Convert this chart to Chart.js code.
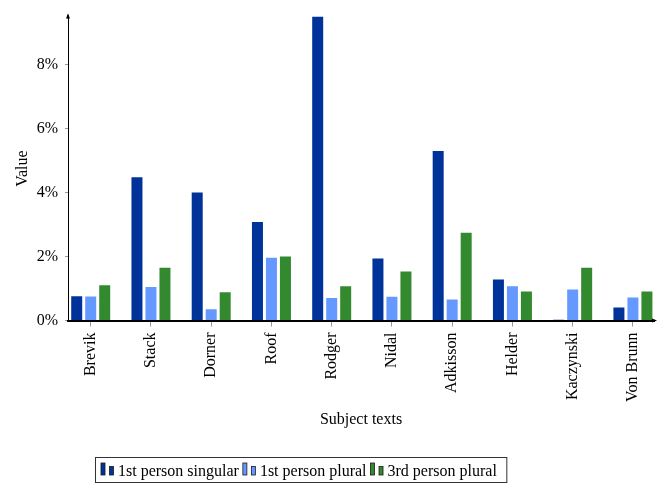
<!DOCTYPE html>
<html>

<head>
    <script src="https://cdn.jsdelivr.net/npm/chart.js@4.4.0/dist/chart.umd.min.js"></script>
    <style>
        body {
            margin: 0;
            background: #ffffff;
        }

        .chart {
            width: 662px;
            height: 483px;
        }
    </style>
</head>

<body>
    <div class="chart">
        <canvas id="pronouns"></canvas>
    </div>

    <script>
        const subjects = ['Brevik', 'Stack', 'Dorner', 'Roof', 'Rodger',
            'Nidal', 'Adkisson', 'Helder', 'Kaczynski', 'Von Brunn']
        const firstSingular = [0.76, 4.48, 4.0, 3.08, 9.5, 1.94, 5.30, 1.28, 0.02, 0.41]
        const firstPlural = [0.75, 1.05, 0.35, 1.96, 0.70, 0.74, 0.66, 1.07, 0.97, 0.72]
        const thirdPlural = [1.10, 1.65, 0.88, 2.00, 1.07, 1.53, 2.74, 0.91, 1.65, 0.91]
        const yTicks = [0, 2, 4, 6, 8]

        const serif = "'Liberation Serif', 'Times New Roman', serif"

        function points(values) {
            return values.map((v, i) => ({ x: i, y: v }))
        }

        // axis arrows, like the pgfplots "axis lines = left" style
        const arrows = {
            id: 'arrows',
            afterDraw(chart) {
                const ctx = chart.ctx
                const a = chart.chartArea
                ctx.save()
                ctx.fillStyle = '#000'
                ctx.strokeStyle = '#000'
                ctx.lineWidth = 1
                ctx.beginPath()
                ctx.moveTo(a.left, a.top + 2)
                ctx.lineTo(a.left, a.top - 2)
                ctx.stroke()
                ctx.beginPath()
                ctx.moveTo(a.left, a.top - 3)
                ctx.lineTo(a.left - 2, a.top + 2)
                ctx.lineTo(a.left + 2, a.top + 2)
                ctx.closePath()
                ctx.fill()
                ctx.beginPath()
                ctx.moveTo(a.right + 3, a.bottom)
                ctx.lineTo(a.right - 2, a.bottom - 2)
                ctx.lineTo(a.right - 2, a.bottom + 2)
                ctx.closePath()
                ctx.fill()
                ctx.restore()
            }
        }

        // boxed legend under the plot, two little bars per entry
        const boxLegend = {
            id: 'boxLegend',
            afterDraw(chart) {
                const ctx = chart.ctx
                ctx.save()
                ctx.font = '16px ' + serif
                ctx.textBaseline = 'alphabetic'
                const top = 457, bottom = 482
                let x = 101
                chart.data.datasets.forEach((ds, i) => {
                    ctx.fillStyle = ds.backgroundColor
                    ctx.strokeStyle = '#1a1a1a'
                    ctx.lineWidth = 0.8
                    ctx.fillRect(x, 463, 4, 12)
                    ctx.strokeRect(x, 463, 4, 12)
                    ctx.fillRect(x + 8.5, 466.5, 4, 8.5)
                    ctx.strokeRect(x + 8.5, 466.5, 4, 8.5)
                    x += 17
                    ctx.fillStyle = '#000'
                    ctx.fillText(ds.label, x, 476)
                    x += ctx.measureText(ds.label).width + 4
                })
                ctx.strokeStyle = '#333'
                ctx.lineWidth = 1
                ctx.strokeRect(95.5, top + 0.5, x + 6 - 95.5, bottom - top)
                ctx.restore()
            }
        }

        new Chart(document.getElementById('pronouns').getContext('2d'), {
            type: 'bar',
            data: {
                datasets: [{
                    label: '1st person singular',
                    backgroundColor: '#003399',
                    data: points(firstSingular)
                }, {
                    label: '1st person plural',
                    backgroundColor: '#6699ff',
                    data: points(firstPlural)
                }, {
                    label: '3rd person plural',
                    backgroundColor: '#338a2e',
                    data: points(thirdPlural)
                }]
            },
            plugins: [arrows, boxLegend],
            options: {
                animation: false,
                maintainAspectRatio: false,
                responsive: true,
                categoryPercentage: 0.697,
                barPercentage: 0.786,
                layout: {
                    padding: { left: 0, top: 14, right: 8, bottom: 40 }
                },
                plugins: {
                    legend: { display: false },
                    tooltip: { enabled: false }
                },
                scales: {
                    x: {
                        type: 'linear',
                        offset: false,
                        min: -0.377,
                        max: 9.35,
                        afterBuildTicks(scale) {
                            scale.ticks = subjects.map((_, i) => ({ value: i }))
                        },
                        afterFit(scale) {
                            scale.height = 122.5
                        },
                        border: { color: '#000', width: 2 },
                        grid: {
                            offset: false,
                            drawOnChartArea: false,
                            tickLength: 6,
                            color: '#999'
                        },
                        ticks: {
                            autoSkip: false,
                            minRotation: 90,
                            maxRotation: 90,
                            padding: 6,
                            color: '#000',
                            font: { family: serif, size: 16 },
                            callback: (v) => subjects[v]
                        },
                        title: {
                            display: true,
                            text: 'Subject texts',
                            color: '#000',
                            font: { family: serif, size: 16 },
                            padding: { top: 0, bottom: 14 }
                        }
                    },
                    y: {
                        min: 0,
                        max: 9.5,
                        afterBuildTicks(scale) {
                            scale.ticks = yTicks.map(v => ({ value: v }))
                        },
                        afterFit(scale) {
                            scale.width = 68
                        },
                        border: { color: '#000', width: 1 },
                        grid: {
                            drawOnChartArea: false,
                            tickLength: 3,
                            color: '#999'
                        },
                        ticks: {
                            padding: 7,
                            color: '#000',
                            font: { family: serif, size: 16 },
                            callback: (v) => v + '%'
                        },
                        title: {
                            display: true,
                            text: 'Value',
                            color: '#000',
                            font: { family: serif, size: 16 },
                            padding: { top: 13, bottom: 0 }
                        }
                    }
                }
            }
        });
    </script>
</body>

</html>
